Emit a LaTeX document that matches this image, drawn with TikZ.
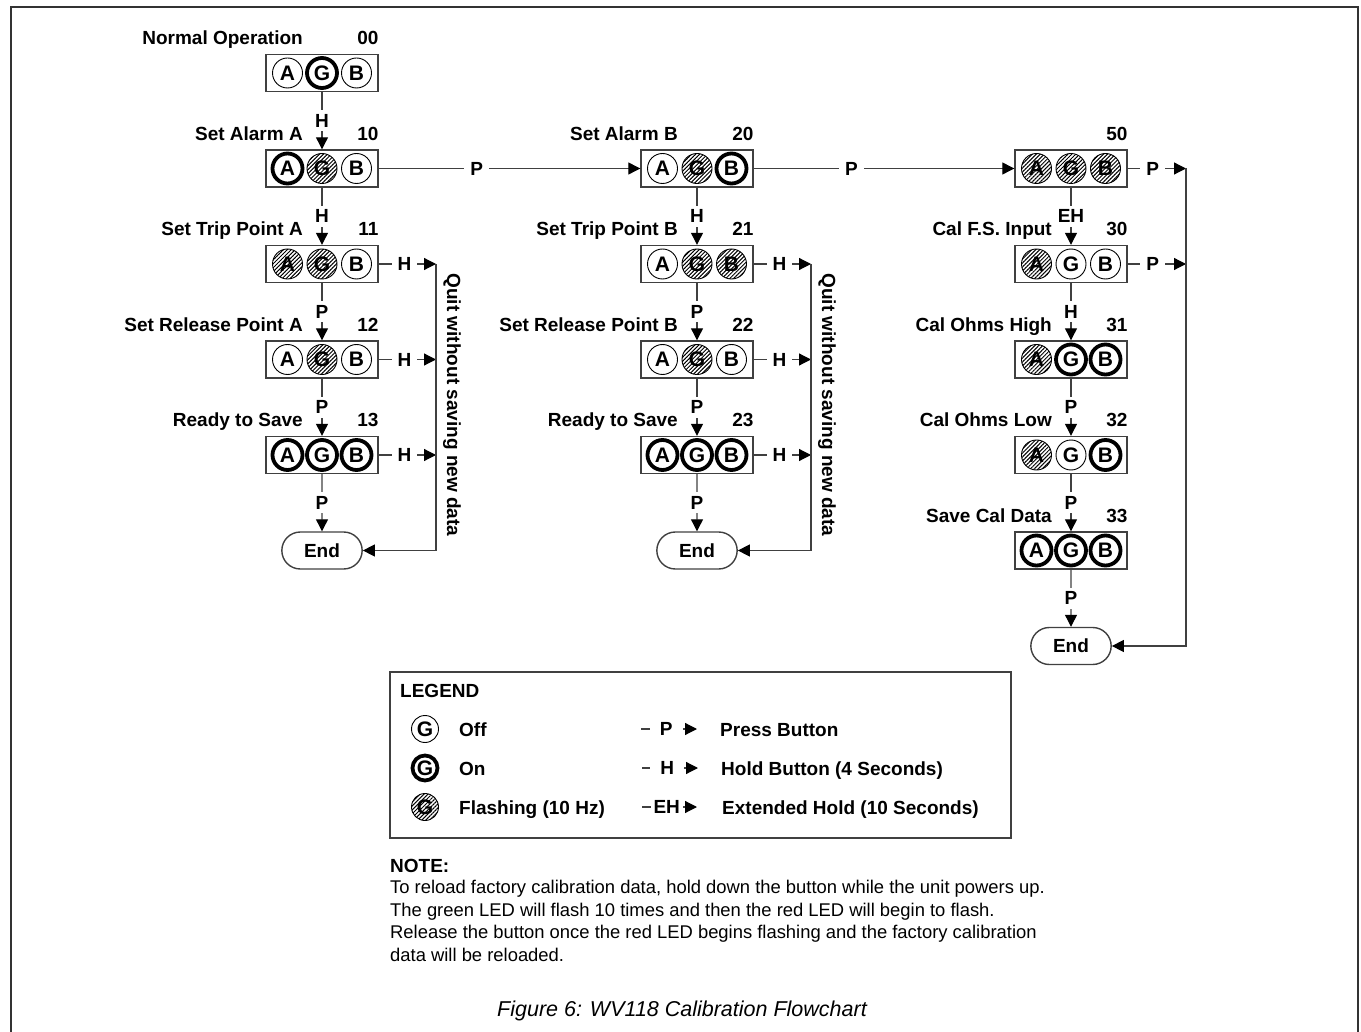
\documentclass[tikz,border=0pt]{standalone}
\usepackage{fontspec}
\setmainfont{Liberation Sans}
\usetikzlibrary{arrows.meta,patterns.meta,shapes.misc}

\newcommand{\lab}{\bfseries\fontsize{19}{22}\selectfont}
\newcommand{\ledfont}{\bfseries\fontsize{21}{22}\selectfont}
\newcommand{\notefont}{\fontsize{18.4}{22.5}\selectfont}
\newcommand{\capfont}{\itshape\fontsize{21.5}{24}\selectfont}

\tikzset{
  conn/.style={draw=black!75, line width=1.2pt},
  flow/.style={conn, -{Triangle[length=12pt,width=12pt,color=black]}},
  panel/.style={draw=black!75, line width=1.4pt, minimum width=112pt, minimum height=37pt, inner sep=0pt},
  led/.style={circle, draw=black, minimum size=30pt, inner sep=0pt, font=\ledfont},
  ledoff/.style={led, line width=0.9pt},
  ledon/.style={led, line width=3.8pt},
  ledflash/.style={led, line width=0.9pt, pattern={Lines[angle=45,distance=2.8pt,line width=1pt]}},
  btn/.style={fill=white, inner xsep=6pt, inner ysep=4pt, font=\lab},
  stagename/.style={anchor=base east, inner sep=0pt, font=\lab},
  endnode/.style={rounded rectangle, draw=black!75, line width=1.4pt, minimum width=87pt, minimum height=37pt, font=\lab},
}

% one LED panel: name, position, A, G, B, number, title
\newcommand{\ledpanel}[7]{%
  \node[panel] (#1) at (#2) {};
  \node[#3] (#1A) at ([xshift=-34.5pt]#1.center) {A};
  \node[#4] (#1G) at (#1.center) {G};
  \node[#5] (#1B) at ([xshift=34.5pt]#1.center) {B};
  \node[stagename] (#1num) at ([yshift=9pt]#1.north east) {#6};
  \node[stagename] (#1name) at ([xshift=-19pt,yshift=9pt]#1.north) {#7};
}

\begin{document}
\begin{tikzpicture}[x=1pt,y=-1pt]
  \useasboundingbox (0,0) rectangle (1361,1032);
  \draw[black!80, line width=1.3pt] (11,1040) -- (11,7) -- (1358,7) -- (1358,1040);

  % alarm A
  \ledpanel{b00}{322,73}{ledoff}{ledon}{ledoff}{00}{Normal Operation}
  \ledpanel{b10}{322,168.5}{ledon}{ledflash}{ledoff}{10}{Set Alarm A}
  \ledpanel{b11}{322,264}{ledflash}{ledflash}{ledoff}{11}{Set Trip Point A}
  \ledpanel{b12}{322,359.5}{ledoff}{ledflash}{ledoff}{12}{Set Release Point A}
  \ledpanel{b13}{322,455}{ledon}{ledon}{ledon}{13}{Ready to Save}
  \node[endnode] (endA) at (322,550.5) {End};

  % alarm B
  \ledpanel{b20}{697,168.5}{ledoff}{ledflash}{ledon}{20}{Set Alarm B}
  \ledpanel{b21}{697,264}{ledoff}{ledflash}{ledflash}{21}{Set Trip Point B}
  \ledpanel{b22}{697,359.5}{ledoff}{ledflash}{ledoff}{22}{Set Release Point B}
  \ledpanel{b23}{697,455}{ledon}{ledon}{ledon}{23}{Ready to Save}
  \node[endnode] (endB) at (697,550.5) {End};

  % calibration
  \ledpanel{b50}{1071,168.5}{ledflash}{ledflash}{ledflash}{50}{}
  \ledpanel{b30}{1071,264}{ledflash}{ledoff}{ledoff}{30}{Cal F.S. Input}
  \ledpanel{b31}{1071,359.5}{ledflash}{ledon}{ledon}{31}{Cal Ohms High}
  \ledpanel{b32}{1071,455}{ledflash}{ledoff}{ledon}{32}{Cal Ohms Low}
  \ledpanel{b33}{1071,550.5}{ledon}{ledon}{ledon}{33}{Save Cal Data}
  \node[endnode] (endC) at (1071,646) {End};

  \foreach \a/\b/\k in {b00/b10/H, b10/b11/H, b11/b12/P, b12/b13/P, b13/endA/P,
                        b20/b21/H, b21/b22/P, b22/b23/P, b23/endB/P,
                        b50/b30/EH, b30/b31/H, b31/b32/P, b32/b33/P, b33/endC/P}
    \draw[flow] (\a) -- node[btn]{\k} (\b);

  \draw[flow] (b10) -- node[btn,pos=0.375]{P} (b20);
  \draw[flow] (b20) -- node[btn,pos=0.375]{P} (b50);

  % quit without saving
  \coordinate (quitA) at (436,264);
  \coordinate (quitB) at (811,264);
  \coordinate (quitC) at (1186,168.5);
  \foreach \s in {b11,b12,b13}
    \draw[flow] (\s.east) -- node[btn,pos=0.45]{H} (\s.east -| quitA);
  \foreach \s in {b21,b22,b23}
    \draw[flow] (\s.east) -- node[btn,pos=0.45]{H} (\s.east -| quitB);
  \foreach \s in {b50,b30}
    \draw[flow] (\s.east) -- node[btn,pos=0.43]{P} (\s.east -| quitC);
  \draw[flow] (quitA) -- (quitA |- endA) -- (endA.east);
  \draw[flow] (quitB) -- (quitB |- endB) -- (endB.east);
  \draw[flow] (quitC) -- (quitC |- endC) -- (endC.east);
  \node[rotate=-90, font=\lab] (quitAtext) at (452,405) {Quit without saving new data};
  \node[rotate=-90, font=\lab] (quitBtext) at (827,405) {Quit without saving new data};

  % legend
  \node[draw=black!75, line width=1.2pt, minimum width=621pt, minimum height=166pt] (legend) at (700.5,755) {};
  \node[stagename, anchor=base west] (legendhead) at (400,697) {LEGEND};
  \node[ledoff, minimum size=27pt] (kOff) at (425,729) {G};
  \node[ledon, minimum size=25pt] (kOn) at (425,768) {G};
  \node[ledflash, minimum size=27pt] (kFlash) at (425,807) {G};
  \node[stagename, anchor=base west] (tOff) at (459,736) {Off};
  \node[stagename, anchor=base west] (tOn) at (459,775) {On};
  \node[stagename, anchor=base west] (tFlash) at (459,814) {Flashing (10 Hz)};
  \coordinate (kP1) at (641,729);  \coordinate (kP2) at (697,729);
  \coordinate (kH1) at (642,768);  \coordinate (kH2) at (698,768);
  \coordinate (kE1) at (642,807);  \coordinate (kE2) at (697,807);
  \draw[flow] (kP1) -- node[btn,inner xsep=10pt,pos=0.45]{P} (kP2);
  \draw[flow] (kH1) -- node[btn,inner xsep=10pt,pos=0.45]{H} (kH2);
  \draw[flow] (kE1) -- node[btn,inner xsep=3pt,pos=0.45]{EH} (kE2);
  \node[stagename, anchor=base west] (tP) at (720,736) {Press Button};
  \node[stagename, anchor=base west] (tH) at (721,775) {Hold Button (4 Seconds)};
  \node[stagename, anchor=base west] (tE) at (722,814) {Extended Hold (10 Seconds)};

  % note and caption
  \node[stagename, anchor=base west] (notehead) at (390,872) {NOTE:};
  \node[anchor=north west, inner sep=0pt, align=left, font=\notefont] (notebody) at (390,880)
    {To reload factory calibration data, hold down the button while the unit powers up.\\
     The green LED will flash 10 times and then the red LED will begin to flash.\\
     Release the button once the red LED begins flashing and the factory calibration\\
     data will be reloaded.};
  \node[anchor=base, inner sep=0pt, font=\capfont] (caption) at (682,1016) {Figure 6: WV118 Calibration Flowchart};
\end{tikzpicture}
\end{document}
